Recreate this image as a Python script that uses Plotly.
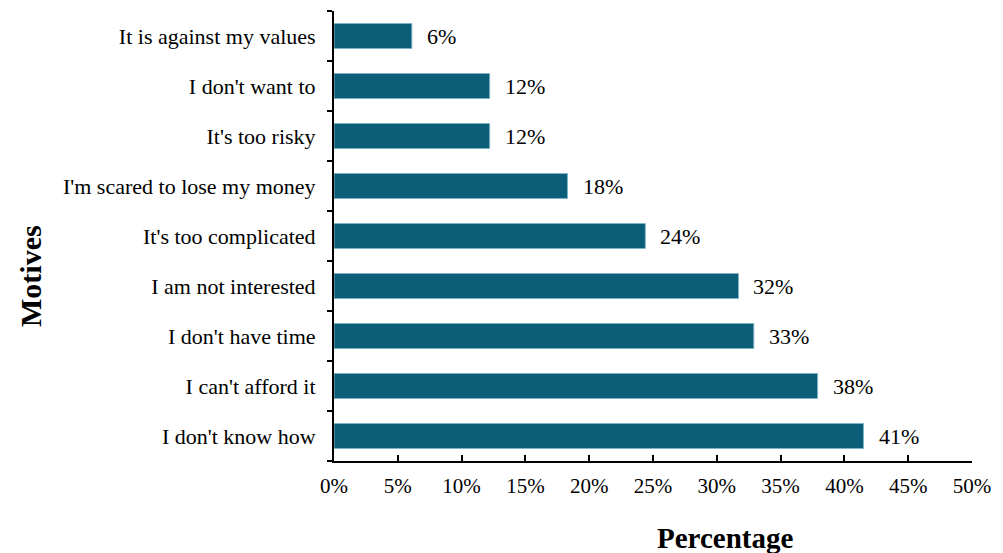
import plotly.graph_objects as go

categories = ["I don't know how", "I can't afford it", "I don't have time", "I am not interested",
              "It's too complicated", "I'm scared to lose my money", "It's too risky",
              "I don't want to", "It is against my values"]
values = [41.5, 37.9, 32.9, 31.7, 24.4, 18.3, 12.2, 12.2, 6.1]
labels = ["41%", "38%", "33%", "32%", "24%", "18%", "12%", "12%", "6%"]
x_ticks = [0, 5, 10, 15, 20, 25, 30, 35, 40, 45, 50]
x_tick_text = [f"{t}%" for t in x_ticks]

FONT = "Liberation Serif, Times New Roman, serif"
BAR = "#0B5E78"

# target plot area in page pixels
L, R, T, B = 334, 972, 11, 461
OFF = 8  # page body margin

fig = go.Figure(go.Bar(
    x=values, y=categories, orientation="h",
    marker=dict(color=BAR, line=dict(color="#7FB3C8", width=1)),
    hoverinfo="skip",
))

for v, c, t in zip(values, categories, labels):
    fig.add_annotation(x=v, y=c, text=t, showarrow=False, xanchor="left", yanchor="middle",
                       xshift=13, font=dict(family=FONT, size=22, color="black"))

fig.add_annotation(xref="paper", yref="paper", x=(725 - L) / (R - L), y=(B - 538) / (B - T),
                   text="<b>Percentage</b>", showarrow=False, xanchor="center", yanchor="middle",
                   font=dict(family=FONT, size=29, color="black"))
fig.add_annotation(xref="paper", yref="paper", x=(30 - L) / (R - L), y=(B - 276) / (B - T),
                   text="<b>Motives</b>", showarrow=False, textangle=-90, xanchor="center", yanchor="middle",
                   font=dict(family=FONT, size=30, color="black"))

W, H = 995, 545
fig.update_layout(
    width=W, height=H,
    margin=dict(l=L - OFF, r=W + OFF - R, t=T - OFF, b=H + OFF - B, autoexpand=False),
    plot_bgcolor="white", paper_bgcolor="white",
    bargap=0.5, showlegend=False,
    font=dict(family=FONT, size=21, color="black"),
    xaxis=dict(range=[0, 50], tickvals=x_ticks, ticktext=x_tick_text, showgrid=False, zeroline=False,
               showline=True, linecolor="black", linewidth=2, ticks="inside", ticklen=6,
               tickwidth=2, tickcolor="black", ticklabelstandoff=5, fixedrange=True,
               tickfont=dict(family=FONT, size=21, color="black")),
    yaxis=dict(showgrid=False, zeroline=False, showline=True, linecolor="black", linewidth=2,
               ticks="outside", ticklen=5, tickwidth=2, tickcolor="black", tickson="boundaries",
               ticklabelstandoff=12, fixedrange=True,
               tickfont=dict(family=FONT, size=22, color="black")),
)

fig.write_html("out.html")
